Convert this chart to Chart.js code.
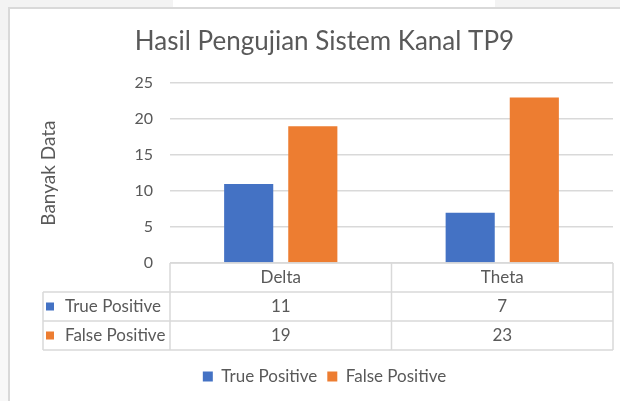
<!DOCTYPE html>
<html>
<head>
<meta charset="utf-8">
<script src="https://cdn.jsdelivr.net/npm/chart.js@4/dist/chart.umd.min.js"></script>
<style>
  html, body { margin: 0; padding: 0; background: #fff; }
  #wrap { width: 620px; height: 401px; }
</style>
</head>
<body>
<div id="wrap"><canvas id="myChart" width="620" height="401"></canvas></div>
<script>
const categories = ['Delta', 'Theta'];
const seriesNames = ['True Positive', 'False Positive'];
const truePositive = [11, 7];
const falsePositive = [19, 23];
const seriesColors = ['#4472C4', '#ED7D31'];

const textColor = '#595959';
const lineColor = '#d9d9d9';
const fontFamily = 'Lato, "Open Sans", sans-serif';
const rowH = 29;

// frame round the chart (grey strips + border)
const framePlugin = {
    id: 'frame',
    beforeDraw(chart) {
        const ctx = chart.ctx;
        ctx.save();
        ctx.fillStyle = '#ffffff';
        ctx.fillRect(0, 0, chart.width, chart.height);
        ctx.fillStyle = '#f3f3f3';
        ctx.fillRect(0, 0, 173, 7);
        ctx.fillRect(495, 0, chart.width - 495, 7);
        ctx.fillRect(0, 0, 8, 40);
        ctx.fillStyle = '#f8f8f8';
        ctx.fillRect(0, 40, 8, chart.height - 40);
        ctx.strokeStyle = lineColor;
        ctx.lineWidth = 2;
        ctx.beginPath();
        ctx.moveTo(9, chart.height);
        ctx.lineTo(9, 8);
        ctx.lineTo(chart.width, 8);
        ctx.stroke();
        ctx.restore();
    }
};

// data table under the plot
const tablePlugin = {
    id: 'dataTable',
    afterDraw(chart) {
        const ctx = chart.ctx;
        const area = chart.chartArea;
        const x = chart.scales.x;
        const left = area.left, right = area.right;
        const mid = (x.getPixelForValue(0) + x.getPixelForValue(1)) / 2;
        const top = area.bottom;
        const labelLeft = 43;
        ctx.save();
        ctx.strokeStyle = lineColor;
        ctx.lineWidth = 1.5;
        ctx.beginPath();
        ctx.moveTo(left, top); ctx.lineTo(right, top);
        for (let r = 1; r <= 3; r++) {
            ctx.moveTo(labelLeft, top + r * rowH);
            ctx.lineTo(right, top + r * rowH);
        }
        ctx.moveTo(labelLeft, top + rowH); ctx.lineTo(labelLeft, top + 3 * rowH);
        [left, mid, right].forEach(px => {
            ctx.moveTo(px, top); ctx.lineTo(px, top + 3 * rowH);
        });
        ctx.stroke();

        ctx.fillStyle = textColor;
        ctx.font = '17px ' + fontFamily;
        ctx.textBaseline = 'middle';
        ctx.textAlign = 'center';
        const centers = [(left + mid) / 2, (mid + right) / 2];
        categories.forEach((c, i) => {
            ctx.fillText(c, centers[i], top + rowH / 2);
        });
        const rows = [truePositive, falsePositive];
        rows.forEach((vals, r) => {
            const cy = top + (r + 1) * rowH + rowH / 2;
            vals.forEach((v, i) => {
                ctx.fillStyle = textColor;
                ctx.textAlign = 'center';
                ctx.fillText(String(v), centers[i], cy);
            });
            ctx.fillStyle = seriesColors[r];
            ctx.fillRect(labelLeft + 3, cy - 4, 8, 8);
            ctx.fillStyle = textColor;
            ctx.textAlign = 'left';
            ctx.fillText(seriesNames[r], labelLeft + 22, cy);
        });
        ctx.restore();
    }
};

const ctx = document.getElementById('myChart').getContext('2d');
const myChart = new Chart(ctx, {
    type: 'bar',
    data: {
        labels: categories,
        datasets: [{
            label: seriesNames[0],
            data: truePositive,
            backgroundColor: seriesColors[0],
            categoryPercentage: 0.579,
            barPercentage: 0.766
        }, {
            label: seriesNames[1],
            data: falsePositive,
            backgroundColor: seriesColors[1],
            categoryPercentage: 0.579,
            barPercentage: 0.766
        }]
    },
    options: {
        responsive: false,
        animation: false,
        layout: {
            padding: { left: 36, right: 7, top: 0, bottom: 6 }
        },
        plugins: {
            title: {
                display: true,
                text: 'Hasil Pengujian Sistem Kanal TP9',
                color: textColor,
                font: { family: fontFamily, size: 26, weight: 'normal' },
                padding: { top: 26, bottom: 26 }
            },
            legend: {
                position: 'bottom',
                labels: {
                    color: textColor,
                    font: { family: fontFamily, size: 17 },
                    boxWidth: 10,
                    boxHeight: 10,
                    padding: 10
                }
            },
            tooltip: { enabled: false }
        },
        scales: {
            x: {
                ticks: { display: false },
                grid: { display: false },
                border: { display: false },
                afterFit: function(scale) { scale.height = 95; }
            },
            y: {
                min: 0,
                max: 25,
                ticks: {
                    stepSize: 5,
                    padding: 17,
                    color: textColor,
                    font: { family: fontFamily, size: 16 }
                },
                grid: { color: lineColor, lineWidth: 1.5, drawTicks: false },
                border: { display: false },
                title: {
                    display: true,
                    text: 'Banyak Data',
                    color: textColor,
                    font: { family: fontFamily, size: 19 },
                    padding: { top: 1, bottom: 0 }
                },
                afterFit: function(scale) { scale.width = 134; }
            }
        }
    },
    plugins: [framePlugin, tablePlugin]
});
</script>
</body>
</html>
